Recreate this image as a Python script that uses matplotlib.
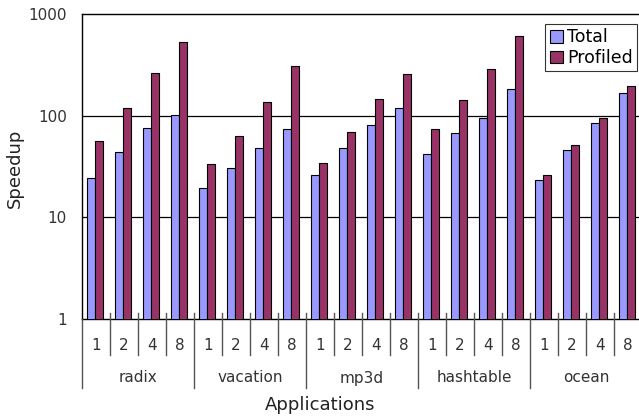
import matplotlib
matplotlib.use("Agg")
import matplotlib.pyplot as plt
from matplotlib.ticker import FixedLocator, NullLocator, FixedFormatter
import numpy as np

plt.rcParams['font.family'] = ['DejaVu Sans']

apps = ["radix", "vacation", "mp3d", "hashtable", "ocean"]
threads = ["1", "2", "4", "8"]

total = [24.2, 43.9, 75.0, 101.0,
         19.4, 30.5, 47.7, 73.8,
         26.2, 47.7, 80.3, 118.0,
         41.6, 67.0, 94.7, 184.0,
         23.1, 46.2, 84.6, 167.0]
profiled = [55.9, 119.6, 262.0, 529.0,
            33.2, 63.4, 137.0, 305.0,
            34.0, 69.5, 145.6, 258.0,
            74.3, 141.0, 285.0, 602.0,
            26.0, 52.0, 95.3, 194.0]

fig = plt.figure(figsize=(6.39, 4.20), dpi=100)
ax = fig.add_axes([82 / 639, 1 - 319 / 420, 560 / 639, 305 / 420])

n = len(total)
slots = np.arange(n)
bw = 0.285
ax.bar(slots + 0.18, total, width=bw, align='edge', color='#9999FF',
       edgecolor='black', linewidth=0.8, label='Total', zorder=3)
ax.bar(slots + 0.18 + bw, profiled, width=bw, align='edge', color='#993366',
       edgecolor='black', linewidth=0.8, label='Profiled', zorder=3)

ax.set_yscale('log')
ax.set_ylim(1, 1000)
ax.set_xlim(0, n)
ax.yaxis.set_major_locator(FixedLocator([1, 10, 100, 1000]))
ax.yaxis.set_major_formatter(FixedFormatter(["1", "10", "100", "1000"]))
ax.yaxis.set_minor_locator(NullLocator())
ax.tick_params(axis='y', length=0, pad=11, labelsize=11, colors='#333333')
ax.set_xticks([])
for y in (10, 100):
    ax.axhline(y, color='black', linewidth=0.9, zorder=1)
for s in ax.spines.values():
    s.set_linewidth(1.0)
    s.set_color('black')

fig.text(15 / 639, 1 - 168 / 420, "Speedup", rotation=90, ha='center',
         va='center', fontsize=13, color='#222222')

# two-level category axis
trans = ax.get_xaxis_transform()
ph = 305.0
for i in range(n + 1):
    if i % 4 == 0:
        y0, y1 = 6 / ph, -69 / ph
        if i == 0:
            y0 = 0
    else:
        y0, y1 = 6 / ph, -36 / ph
    ax.plot([i, i], [y0, y1], transform=trans, color='#555555',
            linewidth=1.0, clip_on=False, zorder=4)
for i in range(n):
    ax.text(i + 0.5, -26 / ph, threads[i % 4], transform=trans,
            ha='center', va='center', fontsize=11, color='#333333')
for g, name in enumerate(apps):
    ax.text(g * 4 + 2, -59 / ph, name, transform=trans,
            ha='center', va='center', fontsize=11, color='#333333')

fig.text(320 / 639, 1 - 405 / 420, "Applications", ha='center', va='center',
         fontsize=13, color='#222222')

leg = ax.legend(loc='upper right', bbox_to_anchor=((637 - 82) / 560, (319 - 24) / 305),
                bbox_transform=ax.transAxes, fontsize=12.5, frameon=True,
                fancybox=False, edgecolor='black', handlelength=0.75,
                handleheight=0.75, handletextpad=0.25, borderpad=0.25,
                labelspacing=0.15, borderaxespad=0)
leg.get_frame().set_linewidth(0.8)

fig.savefig("out.png", dpi=100)
